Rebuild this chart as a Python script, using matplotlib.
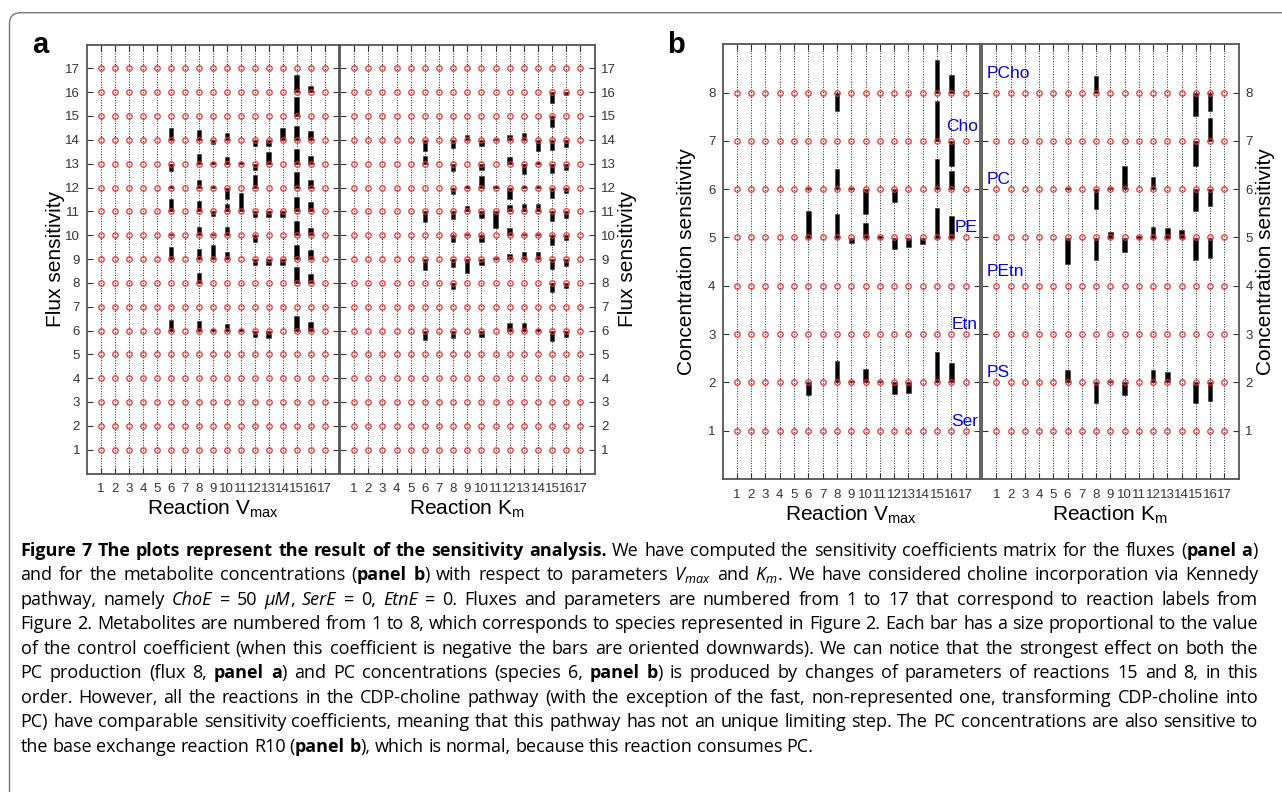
import re
import numpy as np
import matplotlib
matplotlib.use('Agg')
import matplotlib.pyplot as plt
from matplotlib.patches import FancyBboxPatch

# ---- data: bar heights per row (species / flux), one value per reaction 1..17 ----
reactions = list(range(1, 18))
flux_rows = list(range(1, 18))
conc_rows = list(range(1, 9))

flux_vmax = {
    16: [0, 0, 0, 0, 0, 0, 0, 0, 0, 0, 0, 0, 0, 0, 0.72, 0.26, 0],
    15: [0, 0, 0, 0, 0, 0, 0, 0, 0, 0, 0, 0, 0, 0, 0.78, 0, 0],
    14: [0, 0, 0, 0, 0, 0.49, 0, 0.42, -0.18, 0.28, 0, -0.26, -0.26, 0.50, 0.60, 0.37, 0],
    13: [0, 0, 0, 0, 0, -0.30, 0, 0.39, 0.05, 0.30, 0.05, -0.26, 0.50, 0, 0.60, 0.33, 0],
    12: [0, 0, 0, 0, 0, 0.05, 0, 0.32, 0.05, -0.50, 0, 0.53, 0, 0, 0.64, 0.30, 0],
    11: [0, 0, 0, 0, 0, 0.50, 0, 0.42, -0.18, 0.30, 0.78, -0.25, -0.25, -0.25, 0.60, 0.38, 0],
    10: [0, 0, 0, 0, 0, 0.05, 0, 0.33, 0.05, 0.33, 0, -0.27, 0, 0, 0.60, 0.30, 0],
    9: [0, 0, 0, 0, 0, 0.50, 0, 0.40, 0.60, 0.29, 0, -0.27, -0.27, -0.27, 0.60, 0.37, 0],
    8: [0, 0, 0, 0, 0, 0, 0, 0.40, 0, 0, 0, 0, 0, 0, 0.67, 0.36, 0],
    6: [0, 0, 0, 0, 0, 0.46, 0, 0.39, 0.05, 0.28, 0.05, -0.27, -0.30, 0, 0.60, 0.35, 0],
}

flux_km = {
    16: [0, 0, 0, 0, 0, 0, 0, 0, 0, 0, 0, 0, 0, 0, -0.46, -0.12, 0],
    15: [0, 0, 0, 0, 0, 0, 0, 0, 0, 0, 0, 0, 0, 0, -0.45, 0, 0],
    14: [0, 0, 0, 0, 0, -0.46, 0, -0.33, 0.20, -0.26, 0.05, 0.22, 0.28, -0.48, -0.42, -0.30, 0],
    13: [0, 0, 0, 0, 0, 0.32, 0, -0.30, 0, -0.27, 0, 0.30, -0.45, 0.05, -0.40, -0.27, 0],
    12: [0, 0, 0, 0, 0, 0, 0, -0.27, 0.05, 0.48, 0.05, -0.50, 0.05, 0.05, -0.46, -0.22, 0],
    11: [0, 0, 0, 0, 0, -0.46, 0, -0.33, 0.22, -0.26, -0.72, 0.25, 0.30, 0.30, -0.40, -0.28, 0],
    10: [0, 0, 0, 0, 0, 0, 0, -0.27, 0.05, -0.27, 0, 0.28, 0.05, 0.05, -0.40, -0.20, 0],
    9: [0, 0, 0, 0, 0, -0.46, 0, -0.35, -0.60, -0.27, 0.05, 0.22, 0.28, 0.30, -0.42, -0.30, 0],
    8: [0, 0, 0, 0, 0, 0, 0, -0.27, 0, 0, 0, 0, 0, 0, -0.40, -0.20, 0],
    6: [0, 0, 0, 0, 0, -0.40, 0, -0.30, 0, -0.27, 0, 0.30, 0.33, 0.05, -0.42, -0.27, 0],
}

conc_vmax = {
    8: [0, 0, 0, 0, 0, 0, 0, -0.39, 0, 0, 0, 0, 0, 0, 0.68, 0.37, 0],
    7: [0, 0, 0, 0, 0, 0, 0, 0, 0, 0, 0, 0, 0, 0, 0.83, -0.52, 0],
    6: [0, 0, 0, 0, 0, 0.03, 0, 0.41, 0.03, -0.52, 0, -0.26, 0, 0, 0.62, 0.37, 0],
    5: [0, 0, 0, 0, 0, 0.54, 0, 0.48, -0.12, 0.29, 0.03, -0.23, -0.19, -0.14, 0.62, 0.44, 0],
    2: [0, 0, 0, 0, 0, -0.26, 0, 0.44, 0.03, 0.28, 0.03, -0.23, -0.21, 0, 0.63, 0.40, 0],
}

conc_km = {
    8: [0, 0, 0, 0, 0, 0, 0, 0.34, 0, 0, 0, 0, 0, 0, -0.48, -0.38, 0],
    7: [0, 0, 0, 0, 0, 0, 0, 0, 0, 0, 0, 0, 0, 0, -0.52, 0.47, 0],
    6: [0, 0, 0, 0, 0, 0.03, 0, -0.41, 0.03, 0.48, 0, 0.26, 0, 0, -0.45, -0.34, 0],
    5: [0, 0, 0, 0, 0, -0.55, 0, -0.47, 0.12, -0.30, 0.03, 0.22, 0.19, 0.15, -0.46, -0.43, 0],
    2: [0, 0, 0, 0, 0, 0.26, 0, -0.43, 0.03, -0.27, 0, 0.25, 0.21, 0, -0.43, -0.39, 0],
}

species = ['Ser', 'PS', 'Etn', 'PEtn', 'PE', 'PC', 'Cho', 'PCho']
species_label_y = [1.2, 2.2, 3.2, 4.3, 5.2, 6.2, 7.3, 8.4]

caption = [
    "**Figure 7 The plots represent the result of the sensitivity analysis.** We have computed the sensitivity coefficients matrix for the fluxes (**panel a**)",
    r"and for the metabolite concentrations (**panel b**) with respect to parameters *$\mathregular{V_{max}}$* and *$\mathregular{K_{m}}$*. We have considered choline incorporation via Kennedy",
    "pathway, namely *ChoE* = 50 *μM*, *SerE* = 0, *EtnE* = 0. Fluxes and parameters are numbered from 1 to 17 that correspond to reaction labels from",
    "Figure 2. Metabolites are numbered from 1 to 8, which corresponds to species represented in Figure 2. Each bar has a size proportional to the value",
    "of the control coefficient (when this coefficient is negative the bars are oriented downwards). We can notice that the strongest effect on both the",
    "PC production (flux 8, **panel a**) and PC concentrations (species 6, **panel b**) is produced by changes of parameters of reactions 15 and 8, in this",
    "order. However, all the reactions in the CDP-choline pathway (with the exception of the fast, non-represented one, transforming CDP-choline into",
    "PC) have comparable sensitivity coefficients, meaning that this pathway has not an unique limiting step. The PC concentrations are also sensitive to",
    "the base exchange reaction R10 (**panel b**), which is normal, because this reaction consumes PC.",
]

W, H = 1282, 792
plt.rcParams['font.family'] = ['Liberation Sans', 'DejaVu Sans']
fig = plt.figure(figsize=(W / 100, H / 100), dpi=100)


def add_ax(l, t, r, b):
    return fig.add_axes([l / W, 1 - b / H, (r - l) / W, (b - t) / H])


def draw_panel(ax, data, rows, barw, side):
    ax.set_xlim(0, 18)
    ax.set_ylim(0, len(rows) + 1)
    ax.set_xticks(reactions)
    ax.set_yticks(rows)
    ax.grid(axis='x', linestyle=':', color='#222', linewidth=0.7)
    ax.set_axisbelow(True)
    for row, vals in data.items():
        vals = np.array(vals)
        nz = vals != 0
        ax.bar(np.array(reactions)[nz], vals[nz], bottom=row, width=barw,
               color='black', edgecolor='#333', linewidth=0.4, zorder=2)
    X, Y = np.meshgrid(reactions, rows)
    ax.plot(X.ravel(), Y.ravel(), 'o', mfc='none', mec='#ff2a2a', ms=3.9,
            mew=0.9, zorder=3)
    ax.tick_params(direction='in', length=4, top=True, right=True,
                   labelsize=9.5, labelcolor='#333', color='#333', pad=5)
    ax.tick_params(axis='x', pad=7)
    if side == 'right':
        ax.tick_params(labelleft=False, labelright=True)
        ax.yaxis.set_label_position('right')
    for sp in ax.spines.values():
        sp.set_color('#555')
        sp.set_linewidth(1.3)


# panel a
ax_a1 = add_ax(87, 44.5, 338.5, 473.5)
ax_a2 = add_ax(340, 44.5, 594.5, 473.5)
draw_panel(ax_a1, flux_vmax, flux_rows, 0.31, 'left')
draw_panel(ax_a2, flux_km, flux_rows, 0.31, 'right')
ax_a1.set_ylabel('Flux sensitivity', fontsize=15, labelpad=0)
ax_a2.set_ylabel('Flux sensitivity', fontsize=15, labelpad=1)
ax_a1.set_xlabel(r'Reaction $\mathregular{V_{max}}$', fontsize=15, labelpad=2)
ax_a2.set_xlabel(r'Reaction $\mathregular{K_{m}}$', fontsize=15, labelpad=2)

# panel b
ax_b1 = add_ax(722.5, 44.3, 980, 479)
ax_b2 = add_ax(982, 44.3, 1238.5, 479)
draw_panel(ax_b1, conc_vmax, conc_rows, 0.33, 'left')
draw_panel(ax_b2, conc_km, conc_rows, 0.33, 'right')
ax_b1.set_ylabel('Concentration sensitivity', fontsize=15, labelpad=9)
ax_b2.set_ylabel('Concentration sensitivity', fontsize=15, labelpad=2)
ax_b1.set_xlabel(r'Reaction $\mathregular{V_{max}}$', fontsize=15, labelpad=2)
ax_b2.set_xlabel(r'Reaction $\mathregular{K_{m}}$', fontsize=15, labelpad=2)

# species names, odd ones at right edge of Vmax plot, even ones at left of Km plot
for k, (name, yy) in enumerate(zip(species, species_label_y)):
    if k % 2 == 0:
        ax_b1.text(17.85, yy, name, color='#0000ff', fontsize=12.5,
                   ha='right', va='center', clip_on=False, zorder=5)
    else:
        ax_b2.text(0.3, yy, name, color='#0000ff', fontsize=12.5,
                   ha='left', va='center', clip_on=False, zorder=5)

fig.text(32 / W, 1 - 53 / H, 'a', fontsize=21, fontweight='bold', va='baseline')
fig.text(667 / W, 1 - 53 / H, 'b', fontsize=21, fontweight='bold', va='baseline')

# frame around the figure (only top-left corner visible)
frame = FancyBboxPatch((9.5, -60), 1400, 792 - 12.7 + 60,
                       boxstyle='round,pad=0,rounding_size=11', transform=None,
                       fill=False, edgecolor='#777', linewidth=1.0)
fig.add_artist(frame)


# ---- justified caption ----
def runs_of(line):
    out = []
    for part in re.split(r'(\*\*.+?\*\*|\*.+?\*)', line):
        if not part:
            continue
        if part.startswith('**'):
            out.append((part[2:-2], 'bold', 'normal'))
        elif part.startswith('*'):
            out.append((part[1:-1], 'normal', 'italic'))
        else:
            out.append((part, 'normal', 'normal'))
    return out


def words_of(runs):
    words, cur = [], []
    for text, w, s in runs:
        for k, p in enumerate(text.split(' ')):
            if k > 0 and cur:
                words.append(cur)
                cur = []
            if p:
                cur.append((p, w, s))
    if cur:
        words.append(cur)
    return words


renderer = fig.canvas.get_renderer()
cap_family = ['Open Sans', 'DejaVu Sans']
x0, x1 = 20.5, 1258
y0, dy = 556, 24.45
space_em = 0.24

# build text objects at a trial size, then scale so the tightest line fits
lines = []
for i, line in enumerate(caption):
    yb = 1 - (y0 + i * dy) / H
    words = []
    for word in words_of(runs_of(line)):
        objs = [fig.text(0, yb, text, fontsize=10, family=cap_family,
                         fontweight=w, fontstyle=s, va='baseline', ha='left')
                for text, w, s in word]
        words.append(objs)
    lines.append(words)


def natural(words, fs):
    total = sum(t.get_window_extent(renderer).width for objs in words for t in objs)
    return total + (len(words) - 1) * space_em * fs * 100 / 72


scale = min((x1 - x0) / natural(ws, 10) for ws in lines[:-1])
cap_fs = 10 * scale * 0.99

for i, words in enumerate(lines):
    widths = []
    for objs in words:
        ws = []
        for t in objs:
            t.set_fontsize(cap_fs)
            ws.append(t.get_window_extent(renderer).width)
        widths.append(ws)
    total = sum(sum(ws) for ws in widths)
    if i < len(lines) - 1:
        gap = (x1 - x0 - total) / (len(words) - 1)
    else:
        gap = space_em * cap_fs * 100 / 72
    x = x0
    for objs, ws in zip(words, widths):
        xx = x
        for t, wd in zip(objs, ws):
            t.set_x(xx / W)
            xx += wd
        x = xx + gap

fig.savefig('out.png', dpi=100)
